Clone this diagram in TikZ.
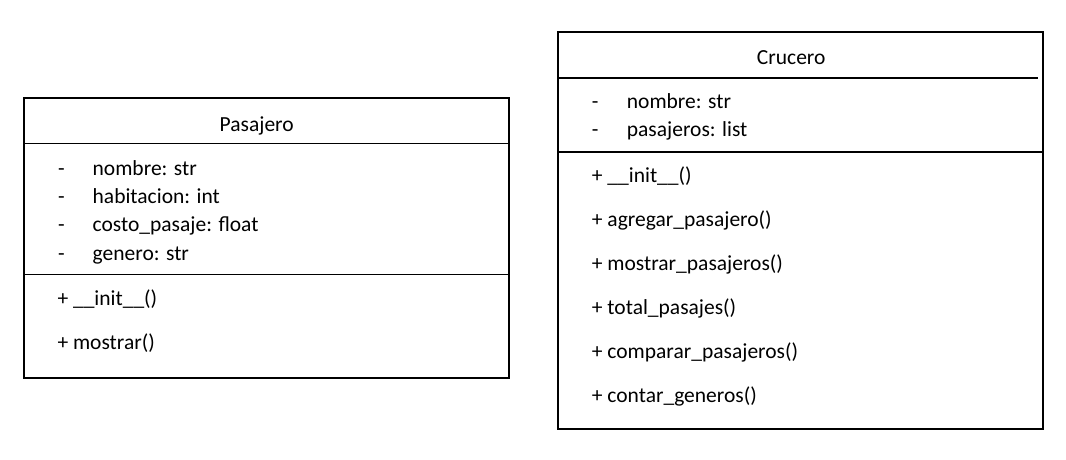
\documentclass[tikz,border=0pt]{standalone}
\usepackage{fontspec}
\setmainfont{Carlito}
\begin{document}
\begin{tikzpicture}[x=1pt,y=-1pt,
 box/.style={draw=black, line width=2pt, minimum width=485pt, inner sep=0pt, anchor=north west},
 sep/.style={line width=1.2pt},
 txt/.style={anchor=base west, inner sep=0pt, font=\fontsize{21.5}{25}\selectfont}]
\useasboundingbox (0,0) rectangle (1066,460);
% Pasajero
\node[box, minimum height=280pt] (pas) at (23,97) {};
\draw[sep] (pas.west |- 0,143.5) -- (pas.east |- 0,143.5);
\draw[sep] (pas.west |- 0,274.5) -- (pas.east |- 0,274.5);
\node[txt] (pt) at (219.5,131) {Pasajero};
\node[txt] (pd1) at (58,175) {-};
\node[txt] (pa1) at (92.5,175) {nombre: str};
\node[txt] (pd2) at (58,203.3) {-};
\node[txt] (pa2) at (92.5,203.3) {habitacion: int};
\node[txt] (pd3) at (58,231.6) {-};
\node[txt] (pa3) at (92.5,231.6) {costo\_pasaje: float};
\node[txt] (pd4) at (58,260) {-};
\node[txt] (pa4) at (92.5,260) {genero: str};
\node[txt] (pm1) at (57.3,305) {+ \_\_init\_\_()};
\node[txt] (pm2) at (57.3,349) {+ mostrar()};
% Crucero
\node[box, minimum height=397pt] (cru) at (557,31) {};
\draw[sep] (cru.west |- 0,78) -- (1038,78);
\draw[sep] (cru.west |- 0,152) -- (cru.east |- 0,152);
\node[txt] (ct) at (756.7,65) {Crucero};
\node[txt] (cd1) at (591.7,109) {-};
\node[txt] (ca1) at (626.7,109) {nombre: str};
\node[txt] (cd2) at (591.7,136.5) {-};
\node[txt] (ca2) at (626.7,136.5) {pasajeros: list};
\node[txt] (cm1) at (591.7,182) {+ \_\_init\_\_()};
\node[txt] (cm2) at (591.7,226) {+ agregar\_pasajero()};
\node[txt] (cm3) at (591.7,270) {+ mostrar\_pasajeros()};
\node[txt] (cm4) at (591.7,314) {+ total\_pasajes()};
\node[txt] (cm5) at (591.7,358) {+ comparar\_pasajeros()};
\node[txt] (cm6) at (591.7,402) {+ contar\_generos()};
\end{tikzpicture}
\end{document}
